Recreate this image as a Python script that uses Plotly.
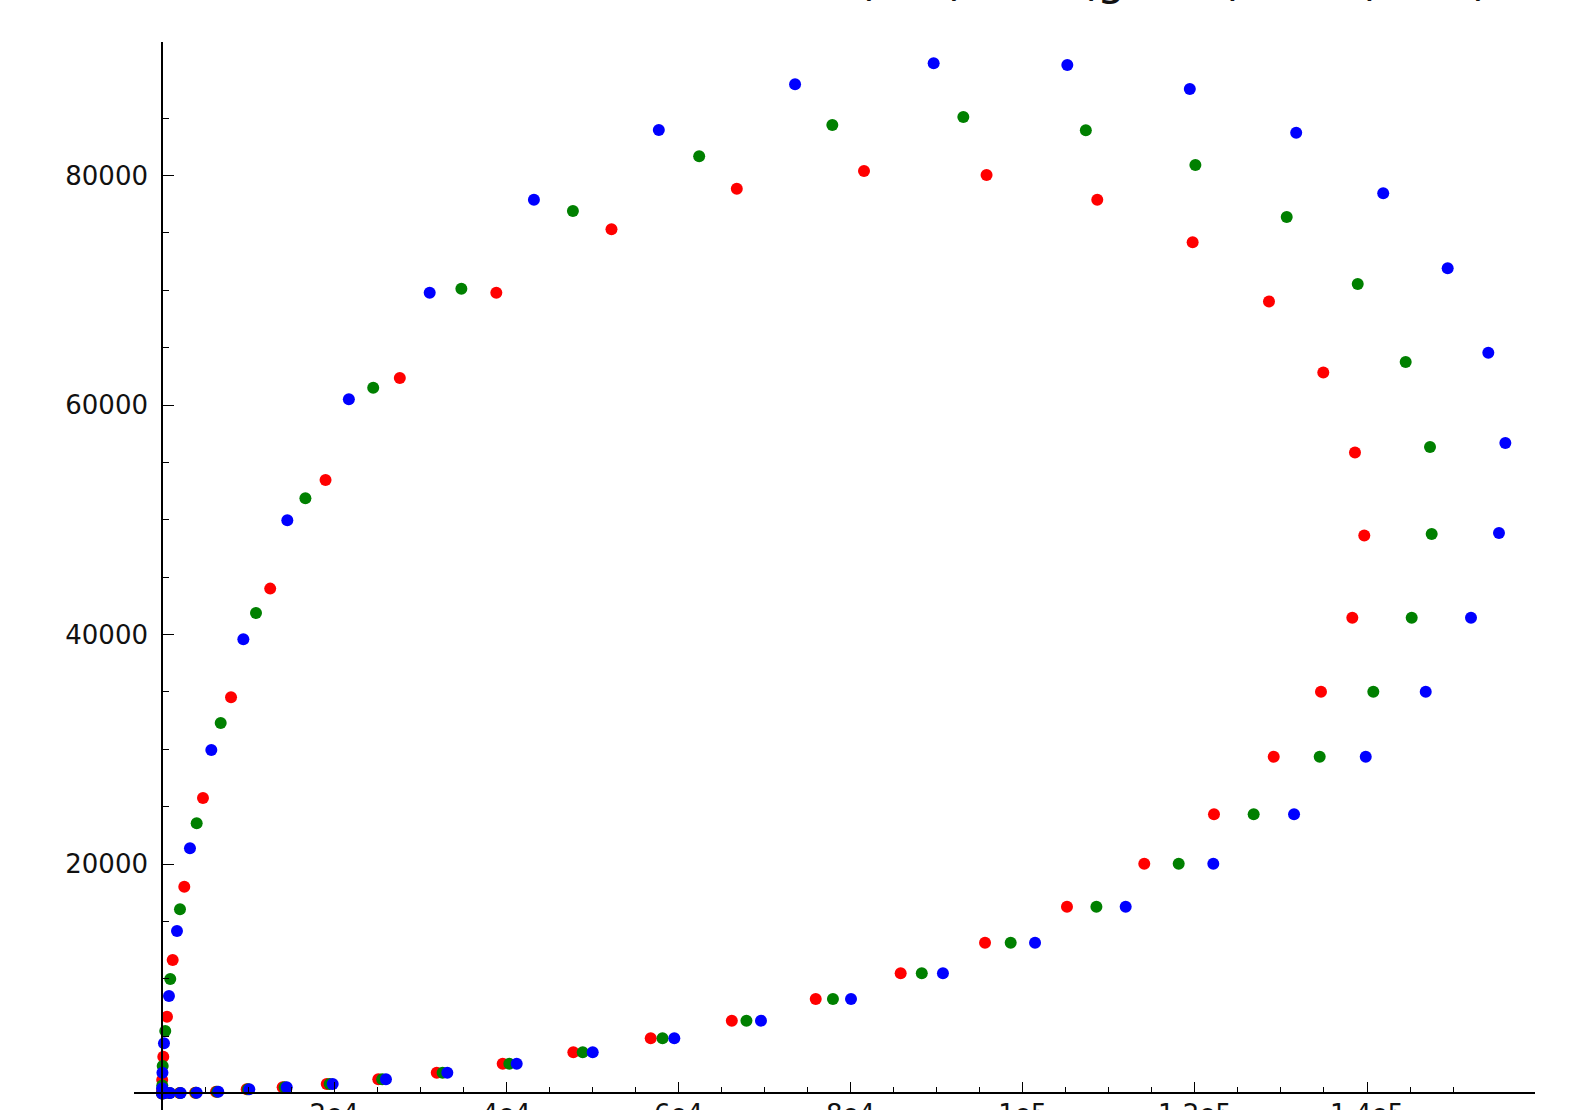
import plotly.graph_objects as go

# ---- data ----
red_x = [0, 200, 850, 2050, 3850, 6270, 9840, 14020, 19140, 25130,
         31920, 39580, 47790, 56780, 66200, 75950, 85820, 95620, 105140, 114120,
         122220, 129160, 134650, 138290, 139680, 138600, 134920, 128610, 119740, 108660,
         95800, 81560, 66780, 52220, 38840, 27630, 19000, 12570, 8020, 4760,
         2590, 1240, 580, 150, 20, 10]
red_y = [0, 20, 35, 50, 70, 160, 370, 540, 830, 1240,
         1810, 2600, 3590, 4810, 6350, 8240, 10480, 13140, 16280, 20030,
         24340, 29340, 35020, 41470, 48630, 55870, 62830, 69030, 74180, 77900,
         80050, 80400, 78850, 75320, 69790, 62360, 53460, 44000, 34530, 25750,
         18020, 11640, 6690, 3210, 1180, 300]

green_x = [0, 215, 890, 2110, 3940, 6400, 9990, 14250, 19480, 25580,
           32600, 40350, 48880, 58150, 67900, 77950, 88270, 98600, 108560, 118120,
           126830, 134500, 140730, 145190, 147510, 147320, 144490, 138920, 130670, 120060,
           107330, 93100, 77880, 62410, 47740, 34780, 24540, 16660, 10920, 6820,
           4030, 2090, 960, 380, 80, 30]
green_y = [0, 20, 35, 50, 70, 160, 370, 540, 830, 1240,
           1810, 2600, 3590, 4810, 6350, 8240, 10480, 13140, 16280, 20030,
           24340, 29340, 35020, 41470, 48770, 56350, 63760, 70550, 76390, 80920,
           83940, 85100, 84410, 81680, 76910, 70140, 61510, 51880, 41880, 32290,
           23550, 16050, 9980, 5450, 2400, 700]

blue_x = [0, 232, 930, 2170, 4030, 6540, 10140, 14490, 19830, 26020,
          33150, 41210, 50040, 59520, 69590, 80050, 90730, 101430, 111960, 122140,
          131520, 139850, 146820, 152080, 155330, 156070, 154090, 149370, 141880, 131770,
          119410, 105180, 89650, 73550, 57720, 43210, 31100, 21710, 14560, 9450,
          5730, 3250, 1740, 810, 230, 50, 20]
blue_y = [0, 20, 35, 50, 70, 160, 370, 540, 830, 1240,
          1810, 2600, 3590, 4810, 6350, 8240, 10480, 13140, 16280, 20030,
          24340, 29340, 35020, 41470, 48840, 56690, 64550, 71930, 78450, 83730,
          87540, 89630, 89780, 87950, 83970, 77900, 69790, 60500, 49950, 39580,
          29940, 21370, 14160, 8500, 4380, 1810, 450]

x_major = [20000, 40000, 60000, 80000, 100000, 120000, 140000]
x_major_labels = ["2e4", "4e4", "6e4", "8e4", "1e5", "1.2e5", "1.4e5"]
x_minor = [v for v in range(5000, 150001, 5000) if v % 20000 != 0]
y_major = [20000, 40000, 60000, 80000]
y_major_labels = ["20000", "40000", "60000", "80000"]
y_minor = [v for v in range(5000, 85001, 5000) if v % 20000 != 0]

title_text = "(red) and (green) and (blue)"

X_RANGE = [-3253, 159515]
Y_RANGE = [-1438, 91638]

fig = go.Figure()
for xs, ys, col in [(red_x, red_y, "#ff0000"), (green_x, green_y, "#008000"), (blue_x, blue_y, "#0000ff")]:
    fig.add_trace(go.Scatter(x=xs, y=ys, mode="markers",
                             marker=dict(color=col, size=12, line=dict(width=0)),
                             showlegend=False, hoverinfo="x+y"))

font = dict(family="DejaVu Sans", size=26, color="#111111")
axis_common = dict(showgrid=False, zeroline=False, showline=True, linecolor="#000000",
                   linewidth=1.6, ticks="inside", ticklen=11, tickwidth=1.2,
                   tickcolor="#000000", tickfont=font, anchor="free", automargin=False)

W, H = 1575, 1110
ML, MR, MT, MB = 134, 40, 42, 0
plot_h = H - MT - MB

fig.update_layout(
    width=W, height=H,
    margin=dict(l=ML, r=MR, t=MT, b=MB, pad=0, autoexpand=False),
    paper_bgcolor="white", plot_bgcolor="white",
    xaxis=dict(range=X_RANGE, tickmode="array", tickvals=x_major, ticktext=x_major_labels,
               position=(0 - Y_RANGE[0]) / (Y_RANGE[1] - Y_RANGE[0]),
               minor=dict(tickmode="array", tickvals=x_minor, ticks="inside", ticklen=6,
                          tickwidth=1.2, tickcolor="#000000"),
               ticklabelstandoff=-2, **axis_common),
    yaxis=dict(range=Y_RANGE, tickmode="array", tickvals=y_major, ticktext=y_major_labels,
               position=(0 - X_RANGE[0]) / (X_RANGE[1] - X_RANGE[0]),
               minor=dict(tickmode="array", tickvals=y_minor, ticks="inside", ticklen=6,
                          tickwidth=1.2, tickcolor="#000000"),
               ticklabelstandoff=8, **axis_common),
    annotations=[dict(text=title_text, xref="paper", yref="paper",
                      x=(855 - ML) / (W - ML - MR),
                      y=1.0 + 34.5 / plot_h, xanchor="left", yanchor="bottom", showarrow=False,
                      font=dict(family="DejaVu Sans", size=45, color="#111111"))],
)

# remove the default page margin so the figure sits at the window's top-left corner
fig.write_html("out.html", config={"displayModeBar": False},
               post_script="document.body.style.margin='0px';")
